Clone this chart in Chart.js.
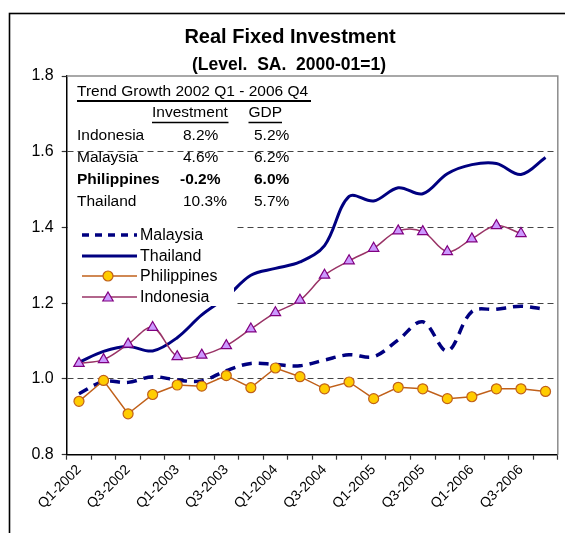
<!DOCTYPE html>
<html>
<head>
<meta charset="utf-8">
<title>Real Fixed Investment</title>
<script src="https://cdn.jsdelivr.net/npm/chart.js@4.4.1/dist/chart.umd.min.js"></script>
<style>
  html, body { margin: 0; padding: 0; background: #fff; }
  #wrap { width: 565px; height: 533px; }
</style>
</head>
<body>
<div id="wrap"><canvas id="invest-chart" width="565" height="533"></canvas></div>
<script>
// quarterly, Q1-2002 .. Q4-2006
const quarters = [
    'Q1-2002', 'Q2-2002', 'Q3-2002', 'Q4-2002',
    'Q1-2003', 'Q2-2003', 'Q3-2003', 'Q4-2003',
    'Q1-2004', 'Q2-2004', 'Q3-2004', 'Q4-2004',
    'Q1-2005', 'Q2-2005', 'Q3-2005', 'Q4-2005',
    'Q1-2006', 'Q2-2006', 'Q3-2006', 'Q4-2006'
];

const malaysia = [0.961, 0.993, 0.991, 1.006, 0.997, 0.995, 1.022, 1.041, 1.038, 1.035,
                  1.050, 1.064, 1.059, 1.103, 1.151, 1.074, 1.178, 1.184, 1.192, 1.184];
const thailand = [1.044, 1.073, 1.086, 1.074, 1.109, 1.169, 1.216, 1.274, 1.292, 1.309,
                  1.352, 1.482, 1.470, 1.505, 1.489, 1.542, 1.566, 1.569, 1.540, 1.585];
const philippines = [0.941, 0.996, 0.908, 0.959, 0.984, 0.981, 1.009, 0.977, 1.029, 1.006,
                     0.974, 0.992, 0.948, 0.978, 0.974, 0.948, 0.953, 0.974, 0.974, 0.967];
const indonesia = [1.041, 1.051, 1.092, 1.136, 1.059, 1.063, 1.088, 1.132, 1.175, 1.208,
                   1.274, 1.312, 1.345, 1.391, 1.389, 1.336, 1.370, 1.405, 1.384, null];

const yTicks = [0.8, 1.0, 1.2, 1.4, 1.6, 1.8];

// trend growth table
const tableTitle = 'Trend Growth 2002 Q1 - 2006 Q4';
const tableCountries = ['Indonesia', 'Malaysia', 'Philippines', 'Thailand'];
const tableInvestment = ['8.2%', '4.6%', '-0.2%', '10.3%'];
const tableGdp = ['5.2%', '6.2%', '6.0%', '5.7%'];
const tableBold = [false, false, true, false];

const NAVY = '#000080';
const PHIL_LINE = '#C0601A';
const PHIL_FILL = '#FFCC00';
const INDO_LINE = '#993366';
const INDO_FILL = '#CC99FF';
const INDO_EDGE = '#800080';
const FONT = 'Arial, "Liberation Sans", sans-serif';

function _triangle(ctx, x, y, r) {
    ctx.beginPath();
    ctx.moveTo(x, y - r);
    ctx.lineTo(x + 0.866 * r, y + 0.5 * r);
    ctx.lineTo(x - 0.866 * r, y + 0.5 * r);
    ctx.closePath();
}

const overlay = {
    id: 'overlay',
    beforeDraw(chart) {
        const ctx = chart.ctx;
        ctx.save();
        ctx.fillStyle = '#fff';
        ctx.fillRect(0, 0, chart.width, chart.height);
        ctx.restore();
    },
    afterDatasetsDraw(chart) {
        const ctx = chart.ctx;
        ctx.save();

        // legend box hides the lines behind it
        ctx.fillStyle = '#fff';
        ctx.fillRect(68, 224, 166, 82);

        const items = [
            {label: 'Malaysia', y: 235},
            {label: 'Thailand', y: 256},
            {label: 'Philippines', y: 276},
            {label: 'Indonesia', y: 297}
        ];
        // Malaysia
        ctx.strokeStyle = NAVY;
        ctx.lineWidth = 3.5;
        ctx.setLineDash([7, 6]);
        ctx.beginPath(); ctx.moveTo(82, items[0].y); ctx.lineTo(137, items[0].y); ctx.stroke();
        ctx.setLineDash([]);
        // Thailand
        ctx.lineWidth = 3;
        ctx.beginPath(); ctx.moveTo(82, items[1].y); ctx.lineTo(137, items[1].y); ctx.stroke();
        // Philippines
        ctx.strokeStyle = PHIL_LINE;
        ctx.lineWidth = 1.5;
        ctx.beginPath(); ctx.moveTo(82, items[2].y); ctx.lineTo(137, items[2].y); ctx.stroke();
        ctx.beginPath(); ctx.arc(108, items[2].y, 5, 0, Math.PI * 2);
        ctx.fillStyle = PHIL_FILL; ctx.fill();
        ctx.lineWidth = 1.2; ctx.stroke();
        // Indonesia
        ctx.strokeStyle = INDO_LINE;
        ctx.lineWidth = 1.5;
        ctx.beginPath(); ctx.moveTo(82, items[3].y); ctx.lineTo(137, items[3].y); ctx.stroke();
        _triangle(ctx, 108, items[3].y + 1, 6);
        ctx.fillStyle = INDO_FILL; ctx.fill();
        ctx.strokeStyle = INDO_EDGE; ctx.lineWidth = 1.2; ctx.stroke();

        ctx.fillStyle = '#000';
        ctx.font = '16px ' + FONT;
        ctx.textBaseline = 'middle';
        ctx.textAlign = 'left';
        items.forEach(it => ctx.fillText(it.label, 140, it.y + 1));

        // trend growth table
        ctx.font = '15.5px ' + FONT;
        ctx.fillText(tableTitle, 77, 92);
        ctx.strokeStyle = '#000';
        ctx.lineWidth = 2;
        ctx.beginPath(); ctx.moveTo(77, 101); ctx.lineTo(311, 101); ctx.stroke();

        ctx.fillText('Investment', 152, 112.5);
        ctx.fillText('GDP', 248.5, 112.5);
        ctx.lineWidth = 1.5;
        ctx.beginPath(); ctx.moveTo(152, 122.5); ctx.lineTo(228.5, 122.5); ctx.stroke();
        ctx.beginPath(); ctx.moveTo(248.5, 122.5); ctx.lineTo(282, 122.5); ctx.stroke();

        tableCountries.forEach((c, i) => {
            const y = 135.5 + i * 22.1;
            ctx.font = (tableBold[i] ? 'bold ' : '') + '15.5px ' + FONT;
            ctx.fillText(c, 77, y);
            ctx.fillText(tableInvestment[i], tableBold[i] ? 180 : 183, y);
            ctx.fillText(tableGdp[i], 254, y);
        });
        ctx.restore();
    },
    afterDraw(chart) {
        const ctx = chart.ctx;
        const a = chart.chartArea;
        ctx.save();
        // plot area frame, top and right
        ctx.strokeStyle = '#8c8c8c';
        ctx.lineWidth = 1.5;
        ctx.beginPath();
        ctx.moveTo(a.left, a.top);
        ctx.lineTo(a.right, a.top);
        ctx.lineTo(a.right, a.bottom);
        ctx.stroke();

        // outer chart frame
        ctx.strokeStyle = '#000';
        ctx.lineWidth = 1.6;
        ctx.strokeRect(9.5, 13.5, 620, 600);

        // titles
        ctx.fillStyle = '#000';
        ctx.textAlign = 'center';
        ctx.textBaseline = 'alphabetic';
        ctx.font = 'bold 20px ' + FONT;
        ctx.fillText('Real Fixed Investment', 290, 43);
        ctx.font = 'bold 17.5px ' + FONT;
        ctx.fillText('(Level.  SA.  2000-01=1)', 289, 70);
        ctx.restore();
    }
};

new Chart(document.getElementById('invest-chart'), {
    type: 'line',
    data: {
        labels: quarters,
        datasets: [{
            label: 'Philippines',
            data: philippines,
            borderColor: PHIL_LINE,
            borderWidth: 1.5,
            tension: 0,
            pointStyle: 'circle',
            pointRadius: 5,
            pointBackgroundColor: PHIL_FILL,
            pointBorderColor: PHIL_LINE,
            pointBorderWidth: 1.2,
            order: 0
        }, {
            label: 'Indonesia',
            data: indonesia,
            borderColor: INDO_LINE,
            borderWidth: 1.5,
            tension: 0.35,
            pointStyle: 'triangle',
            pointRadius: 6,
            pointBackgroundColor: INDO_FILL,
            pointBorderColor: INDO_EDGE,
            pointBorderWidth: 1.2,
            order: 1
        }, {
            label: 'Thailand',
            data: thailand,
            borderColor: NAVY,
            borderWidth: 3,
            tension: 0.35,
            pointRadius: 0,
            order: 2
        }, {
            label: 'Malaysia',
            data: malaysia,
            borderColor: NAVY,
            borderWidth: 3.5,
            borderDash: [10, 7],
            tension: 0.35,
            pointRadius: 0,
            order: 3
        }]
    },
    options: {
        responsive: false,
        animation: false,
        events: [],
        layout: { padding: { top: 76, right: 6, left: 0, bottom: 0 } },
        plugins: {
            legend: { display: false },
            tooltip: { enabled: false },
            title: { display: false }
        },
        scales: {
            x: {
                offset: true,
                afterFit: scale => { scale.height = 78.3; },
                grid: {
                    offset: true,
                    drawOnChartArea: false,
                    tickLength: 5,
                    tickColor: '#333',
                    tickWidth: 1.2
                },
                border: { color: '#000', width: 1.5 },
                ticks: {
                    autoSkip: false,
                    minRotation: 45,
                    maxRotation: 45,
                    padding: 2,
                    color: '#000',
                    font: { family: FONT, size: 14 },
                    callback: function(val, idx) {
                        return idx % 2 === 0 ? this.getLabelForValue(val) : '';
                    }
                }
            },
            y: {
                min: 0.8,
                max: 1.8,
                afterFit: scale => { scale.width = 66.7; },
                afterBuildTicks: scale => { scale.ticks = yTicks.map(v => ({value: v})); },
                grid: {
                    color: ctx => (ctx.tick && (ctx.tick.value > 0.85 && ctx.tick.value < 1.75)) ? '#444' : 'rgba(0,0,0,0)',
                    lineWidth: 1,
                    tickLength: 5,
                    tickColor: '#333',
                    tickWidth: 1.2
                },
                border: { color: '#000', width: 1.5, dash: [6, 4] },
                ticks: {
                    padding: 8,
                    color: '#000',
                    font: { family: FONT, size: 16 },
                    callback: v => v.toFixed(1)
                }
            }
        }
    },
    plugins: [overlay]
});
</script>
</body>
</html>
